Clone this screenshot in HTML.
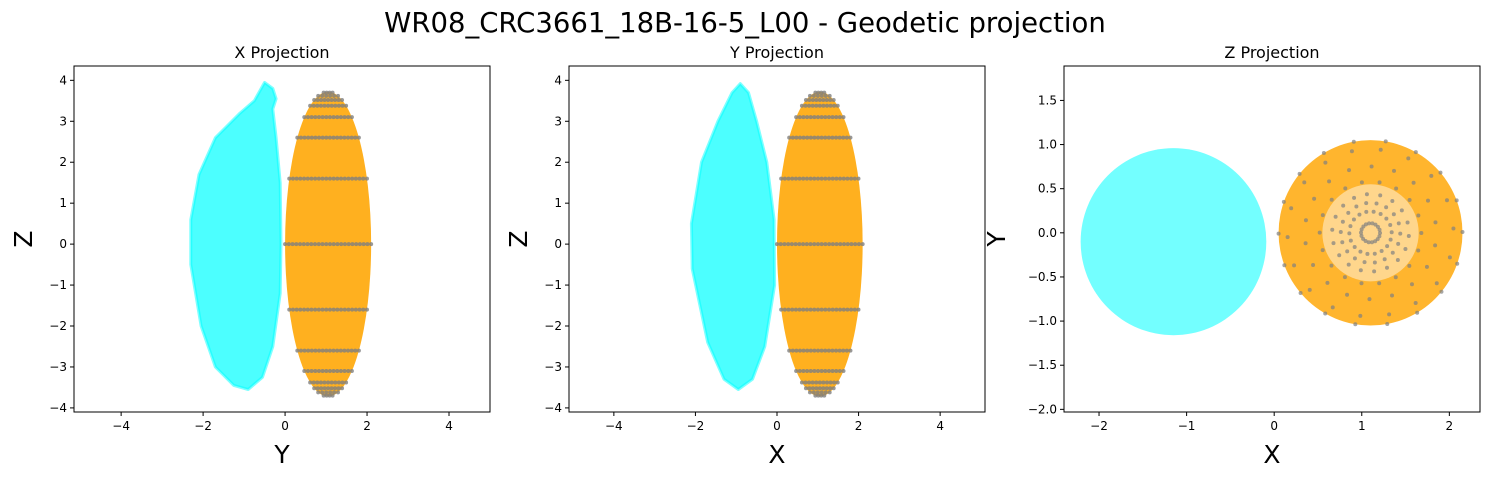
<!DOCTYPE html>
<html><head><meta charset="utf-8"><style>
body{margin:0;background:#fff;}
svg text{font-family:"DejaVu Sans","Liberation Sans",sans-serif;fill:#000;}
</style></head><body>
<svg id="fig" width="1490" height="480" viewBox="0 0 1490 480" xmlns="http://www.w3.org/2000/svg">
<text x="745" y="32" font-size="27.5" text-anchor="middle">WR08_CRC3661_18B-16-5_L00 - Geodetic projection</text>
</svg>
<script>
// ---- data ----
const orangeEllipse = {cx: 1.05, cy: 0, rx: 1.05, ry: 3.72};
const cyanOutlineX = [[-0.5,3.95],[-0.3,3.8],[-0.22,3.55],[-0.3,3.3],[-0.22,2.6],[-0.12,1.5],[-0.1,0],[-0.12,-1.2],[-0.3,-2.5],[-0.55,-3.25],[-0.9,-3.55],[-1.25,-3.45],[-1.7,-3.0],[-2.05,-2.0],[-2.3,-0.5],[-2.3,0.6],[-2.1,1.7],[-1.7,2.6],[-1.1,3.2],[-0.75,3.5]];
const cyanOutlineY = [[-0.9,3.92],[-0.7,3.7],[-0.5,3.0],[-0.25,2.0],[-0.07,0.6],[-0.06,-1.0],[-0.3,-2.5],[-0.6,-3.3],[-0.95,-3.55],[-1.3,-3.3],[-1.7,-2.4],[-2.08,-0.6],[-2.1,0.5],[-1.85,2.0],[-1.45,3.0],[-1.1,3.7]];
const orangeCircle = {cx: 1.1, cy: 0, r: 1.05};
const cyanCircle = {cx: -1.15, cy: -0.1, r: 1.06};
const grayRows = [3.7,3.62,3.52,3.38,3.1,2.6,1.6,0,-1.6,-2.6,-3.1,-3.38,-3.52,-3.62,-3.7];
const ticks12X = [-4,-2,0,2,4];
const ticks12Y = [-4,-3,-2,-1,0,1,2,3,4];
const ticks3X = [-2,-1,0,1,2];
const ticks3Y = [-2.0,-1.5,-1.0,-0.5,0.0,0.5,1.0,1.5];

const svg = document.getElementById('fig');
const NS = 'http://www.w3.org/2000/svg';
function mk(tag, attrs, parent){const e=document.createElementNS(NS,tag);for(const k in attrs)e.setAttribute(k,attrs[k]);(parent||svg).appendChild(e);return e;}

function panel(o){
  const g = mk('g',{});
  
  
  const sx = v => o.x0 + (v - o.xmin)/(o.xmax-o.xmin)*(o.x1-o.x0);
  const sy = v => o.y1 - (v - o.ymin)/(o.ymax-o.ymin)*(o.y1-o.y0);
  const t = mk('text',{x:(o.x0+o.x1)/2,y:o.y0-8,'font-size':16,'text-anchor':'middle'},g);
  t.textContent = o.title;
  
  
  const clipId='c'+o.name;
  const cp=mk('clipPath',{id:clipId},g); mk('rect',{x:o.x0,y:o.y0,width:o.x1-o.x0,height:o.y1-o.y0},cp);
  const plot=mk('g',{'clip-path':'url(#'+clipId+')'},g);
  o.draw(plot,sx,sy);
  const f=mk('rect',{x:o.x0,y:o.y0,width:o.x1-o.x0,height:o.y1-o.y0,fill:'none',stroke:'#000','stroke-width':1},g);
  
  
  o.xt.forEach(v=>{const X=sx(v);mk('line',{x1:X,x2:X,y1:o.y1,y2:o.y1+4,stroke:'#000'},g);
    const tt=mk('text',{x:X,y:o.y1+18,'font-size':12,'text-anchor':'middle'},g);tt.textContent=o.fmt(v).replace('-','\u2212');
    
    });
  o.yt.forEach(v=>{const Y=sy(v);mk('line',{x1:o.x0-4,x2:o.x0,y1:Y,y2:Y,stroke:'#000'},g);
    const tt=mk('text',{x:o.x0-7,y:Y+4,'font-size':12,'text-anchor':'end'},g);tt.textContent=o.fmty(v).replace('-','\u2212');
    
    });
  const xl=mk('text',{x:(o.x0+o.x1)/2,y:o.y1+51,'font-size':25,'text-anchor':'middle'},g);xl.textContent=o.xlab;
  
  
  const yl=mk('text',{x:0,y:0,'font-size':25,'text-anchor':'middle',transform:`translate(${o.ylx},${(o.y0+o.y1)/2}) rotate(-90)`},g);yl.textContent=o.ylab;
  
  
}

function polyPath(pts,sx,sy){return 'M'+pts.map(p=>sx(p[0]).toFixed(1)+','+sy(p[1]).toFixed(1)).join('L')+'Z';}

function side(plot,sx,sy,cyan){
  const c=mk('path',{d:polyPath(cyan,sx,sy),fill:'#00FFFF','fill-opacity':0.7,stroke:'#00FFFF','stroke-opacity':0.5,'stroke-width':3,'stroke-linejoin':'round'},plot);
  
  
  const e=orangeEllipse;
  const o=mk('ellipse',{cx:sx(e.cx),cy:sy(e.cy),rx:Math.abs(sx(e.cx+e.rx)-sx(e.cx)),ry:Math.abs(sy(e.cy+e.ry)-sy(e.cy)),fill:'#FFA500','fill-opacity':0.88},plot);
  
  
  grayRows.forEach(y=>{
    const hw=e.rx*Math.sqrt(Math.max(0,1-(y/e.ry)**2));
    const n=Math.max(3,Math.round(hw*2/0.09));
    for(let i=0;i<=n;i++){const x=e.cx-hw+2*hw*i/n;
      const d=mk('circle',{cx:sx(x),cy:sy(y),r:2,fill:'#808080','fill-opacity':0.8},plot);
      
      }
  });
}

panel({name:'x-projection',title:'X Projection',x0:74,x1:490,y0:66,y1:412,xmin:-5.15,xmax:5,ymin:-4.1,ymax:4.35,
  xt:ticks12X,yt:ticks12Y,fmt:v=>String(v),fmty:v=>String(v),xlab:'Y',ylab:'Z',ylx:32,
  draw:(p,sx,sy)=>side(p,sx,sy,cyanOutlineX)});
panel({name:'y-projection',title:'Y Projection',x0:569,x1:985,y0:66,y1:412,xmin:-5.1,xmax:5.1,ymin:-4.1,ymax:4.35,
  xt:ticks12X,yt:ticks12Y,fmt:v=>String(v),fmty:v=>String(v),xlab:'X',ylab:'Z',ylx:527,
  draw:(p,sx,sy)=>side(p,sx,sy,cyanOutlineY)});
panel({name:'z-projection',title:'Z Projection',x0:1064,x1:1480,y0:66,y1:412,xmin:-2.4,xmax:2.35,ymin:-2.03,ymax:1.89,
  xt:ticks3X,yt:ticks3Y,fmt:v=>String(v),fmty:v=>v.toFixed(1),xlab:'X',ylab:'Y',ylx:1005,
  draw:(p,sx,sy)=>{
    const k=(sx(1)-sx(0)), ky=(sy(0)-sy(1));
    const c=mk('ellipse',{cx:sx(cyanCircle.cx),cy:sy(cyanCircle.cy),rx:cyanCircle.r*k,ry:cyanCircle.r*ky,fill:'#00FFFF','fill-opacity':0.55},p);
    
    
    const o=mk('ellipse',{cx:sx(orangeCircle.cx),cy:sy(orangeCircle.cy),rx:orangeCircle.r*k,ry:orangeCircle.r*ky,fill:'#FFA500','fill-opacity':0.82},p);
    
    
    const w=mk('ellipse',{cx:sx(orangeCircle.cx),cy:sy(orangeCircle.cy),rx:0.55*k,ry:0.55*ky,fill:'#fff','fill-opacity':0.45},p);
    
    
    grayRows.filter(y=>y>=0).forEach(y=>{
      const r=orangeCircle.r*Math.sqrt(Math.max(0,1-(y/orangeEllipse.ry)**2));
      const n=18;
      for(let i=0;i<n;i++){const a=2*Math.PI*i/n+(r*3);
        const d=mk('circle',{cx:sx(orangeCircle.cx+r*Math.cos(a)),cy:sy(orangeCircle.cy+r*Math.sin(a)),r:2,fill:'#808080','fill-opacity':0.7},p);
        
        }
    });
  }});
</script>
</body></html>
